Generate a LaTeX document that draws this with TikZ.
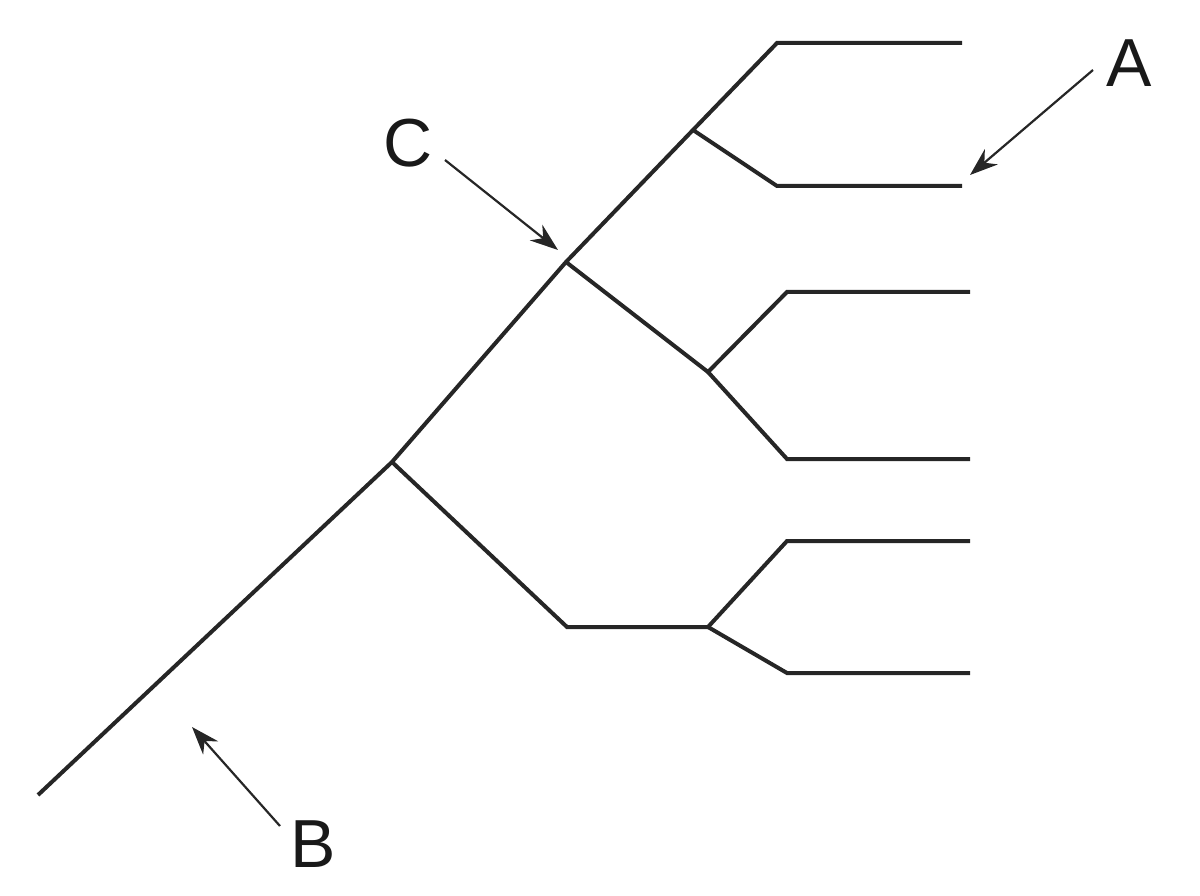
\documentclass[tikz,border=0pt]{standalone}
\usepackage{fontspec}
\setmainfont{Liberation Sans}
\usetikzlibrary{arrows.meta}
\begin{document}
\begin{tikzpicture}[x=1pt,y=-1pt,
    branch/.style={line width=4pt,color=black!85},
    pointer/.style={line width=2.2pt,color=black!85,-{Stealth[length=28pt,width=20pt]}},
    tag/.style={font=\fontsize{68}{68}\selectfont,text=black!90,inner sep=0pt}]
  \useasboundingbox (0,0) rectangle (1200,896);
  % inner points
  \coordinate (r) at (38,795);
  \coordinate (n1) at (392,462);
  \coordinate (n2) at (566,262);
  \coordinate (n3) at (693,130);
  \coordinate (n4) at (708,372);
  \coordinate (m) at (567,627);
  \coordinate (n5) at (708,627);
  % tips
  \coordinate (t1) at (962,43);
  \coordinate (t2) at (962,186);
  \coordinate (t3) at (970,292);
  \coordinate (t4) at (970,459);
  \coordinate (t5) at (970,541);
  \coordinate (t6) at (970,673);
  \draw[branch] (r) -- (n1) -- (n2) -- (n3) -- (777,43) -- (t1);
  \draw[branch] (n3) -- (777,186) -- (t2);
  \draw[branch] (n2) -- (n4) -- (787,292) -- (t3);
  \draw[branch] (n4) -- (787,459) -- (t4);
  \draw[branch] (n1) -- (m) -- (n5) -- (787,541) -- (t5);
  \draw[branch] (n5) -- (787,673) -- (t6);
  % labels
  \node[tag] (a) at (1129,63) {A};
  \node[tag] (c) at (408,143) {C};
  \node[tag] (b) at (313,844) {B};
  \coordinate (pa) at (970,175);
  \coordinate (pc) at (558,250);
  \coordinate (pb) at (192,727);
  \draw[pointer] (1093,70) -- (pa);
  \draw[pointer] (445,160) -- (pc);
  \draw[pointer] (280,826) -- (pb);
\end{tikzpicture}
\end{document}
